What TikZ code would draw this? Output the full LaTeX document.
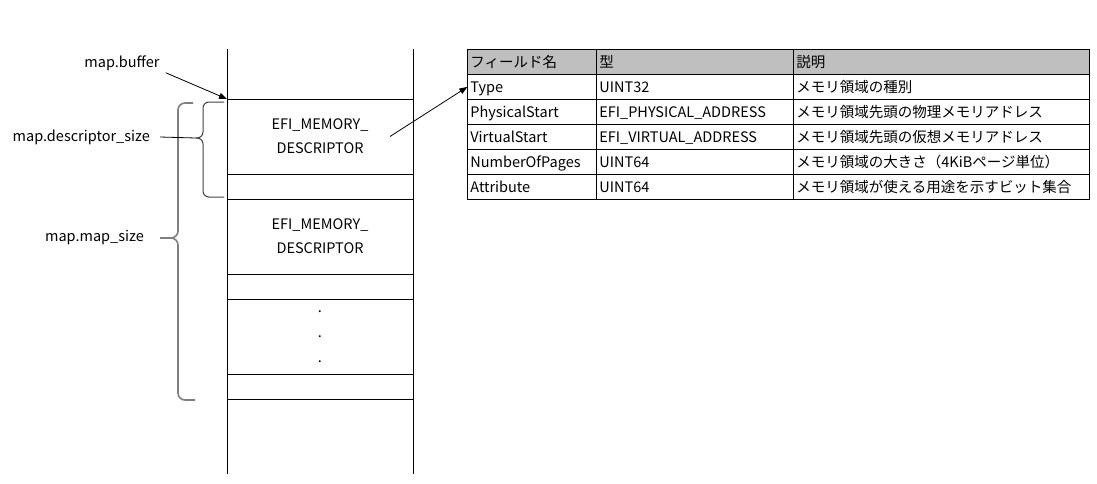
\documentclass[tikz,border=0pt]{standalone}
\usepackage{fontspec}
\setmainfont{Noto Sans CJK JP}
\usepackage{tikz}
\usetikzlibrary{
    arrows.meta,
    positioning,
    matrix,
    calc
}
\definecolor{headgray}{HTML}{BFBFBF}
\definecolor{bracegray}{HTML}{7F7F7F}
\definecolor{bracedark}{HTML}{404040}
\tikzset{
    % Memory slot
    memcell/.style={
        rectangle,
        draw=black,
        line width=0.8pt,
        minimum width=186pt,
        minimum height=#1,
        inner sep=0pt,
        outer sep=0pt,
        align=center,
        font=\fontsize{14.5}{24}\selectfont
    },
    memcell/.default=25pt,
    % Table cell
    fieldcell/.style={
        rectangle,
        draw=black,
        line width=0.8pt,
        minimum height=25pt,
        text height=12pt,
        text depth=1.5pt,
        inner xsep=3pt,
        inner ysep=0pt,
        align=left,
        font=\fontsize{14.5}{16}\selectfont
    },
    % Side label
    sidelabel/.style={
        font=\fontsize{14.5}{16}\selectfont,
        inner sep=2pt
    },
    % Arrow style
    memarrow/.style={
        -{Triangle[length=8pt, width=6pt]},
        line width=0.8pt,
        color=black
    },
    % Braces
    smallbrace/.style={
        draw=bracedark,
        line width=1pt,
        rounded corners=6pt
    },
    bigbrace/.style={
        draw=bracegray,
        line width=1.6pt,
        rounded corners=7pt
    }
}

\begin{document}
\begin{tikzpicture}[x=1pt, y=-1pt]

    \useasboundingbox (0,0) rectangle (1097,483);

    % Memory column (outer walls)
    \coordinate (col-top) at (320,49);
    \coordinate (col-bottom) at (320,474);
    \draw[line width=0.8pt] ([xshift=-93pt]col-top) -- ([xshift=-93pt]col-bottom);
    \draw[line width=0.8pt] ([xshift=93pt]col-top) -- ([xshift=93pt]col-bottom);

    % Memory slots
    \node[memcell=75pt, anchor=north] (desc1) at (320,99) {EFI\_MEMORY\_\\DESCRIPTOR};
    \node[memcell, below=0pt of desc1] (pad1) {};
    \node[memcell=75pt, below=0pt of pad1] (desc2) {EFI\_MEMORY\_\\DESCRIPTOR};
    \node[memcell, below=0pt of desc2] (pad2) {};
    \node[memcell=75pt, below=0pt of pad2, font=\fontsize{14.5}{25}\selectfont] (dots) {\raisebox{-2pt}{.}\\\raisebox{-2pt}{.}\\\raisebox{-2pt}{.}};
    \node[memcell, below=0pt of dots] (pad3) {};

    % Labels (left)
    \node[sidelabel] (buf) at (122,63) {map.buffer};
    \node[sidelabel, anchor=east] (dsz) at (152,137) {map.descriptor\_size};
    \node[sidelabel, anchor=east] (msz) at (146,238) {map.map\_size};

    % Braces
    \coordinate (dsz-tip) at (196,138);
    \draw[smallbrace] (224,102) -- (203,102) -- (203,138) -- (dsz-tip);
    \draw[smallbrace] (dsz-tip) -- (203,138) -- (203,197) -- (224,197);
    \draw[bigbrace] (193,103) -- (178,103) -- (178,238) -- (160,238);
    \draw[bigbrace] (160,238) -- (178,238) -- (178,400) -- (195,400);

    % Field table
    \matrix (fields) [
        matrix of nodes,
        anchor=north west,
        inner sep=0pt,
        outer sep=0pt,
        row sep=-0.8pt,
        column sep=-0.8pt,
        nodes={fieldcell},
        column 1/.style={nodes={text width=123pt}},
        column 2/.style={nodes={text width=191pt}},
        column 3/.style={nodes={text width=290pt}},
        row 1/.style={nodes={fill=headgray}}
    ] at (467,49) {
        フィールド名 & 型 & 説明 \\
        Type & UINT32 & メモリ領域の種別 \\
        PhysicalStart & EFI\_PHYSICAL\_ADDRESS & メモリ領域先頭の物理メモリアドレス \\
        VirtualStart & EFI\_VIRTUAL\_ADDRESS & メモリ領域先頭の仮想メモリアドレス \\
        NumberOfPages & UINT64 & メモリ領域の大きさ（4KiBページ単位） \\
        Attribute & UINT64 & メモリ領域が使える用途を示すビット集合 \\
    };

    % Arrows
    \draw[memarrow] ([xshift=4pt]buf.south east) -- (desc1.north west);
    \draw[line width=0.8pt] ([xshift=8pt]dsz.east) -- (dsz-tip);
    \draw[memarrow] ([xshift=-23pt]desc1.east) -- (fields-2-1.west);

\end{tikzpicture}
\end{document}
